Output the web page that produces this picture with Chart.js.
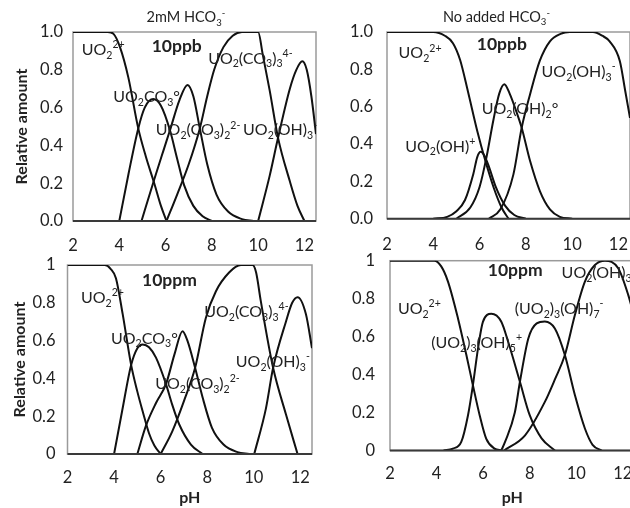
<!DOCTYPE html>
<html><head><meta charset="utf-8">
<script src="https://cdn.jsdelivr.net/npm/chart.js@4/dist/chart.umd.min.js"></script>
<style>
html,body{margin:0;padding:0;background:#fff;}
#wrap{position:relative;width:630px;height:508px;overflow:hidden;background:#fff;}
canvas{position:absolute;}
</style></head><body><div id="wrap">
<canvas id="c1" width="318" height="262" style="left:0;top:0"></canvas>
<canvas id="c2" width="322" height="262" style="left:310px;top:0"></canvas>
<canvas id="c3" width="318" height="258" style="left:0;top:250px"></canvas>
<canvas id="c4" width="340" height="258" style="left:310px;top:250px"></canvas>
</div>
<script>
// ---------- data: [pH, relative amount] ----------
// Panel 1: 2mM HCO3-, 10ppb
const p1_UO2 = [[2,1],[3.5,1],[3.75,0.99],[4.03,0.92],[4.39,0.76],[4.82,0.49],[5.15,0.34],[5.51,0.2],[5.8,0.08],[6.04,0]];
const p1_UO2CO3 = [[4.0,0],[4.4,0.25],[4.82,0.49],[5.1,0.6],[5.47,0.645],[5.8,0.61],[6.19,0.48],[6.5,0.33],[6.8,0.19],[7.2,0.08],[7.6,0.025],[8.0,0]];
const p1_UO2CO3_2 = [[4.96,0],[5.51,0.22],[5.9,0.37],[6.19,0.48],[6.6,0.64],[6.95,0.72],[7.2,0.66],[7.48,0.49],[7.8,0.3],[8.2,0.14],[8.7,0.05],[9.3,0.01],[9.8,0]];
const p1_UO2CO3_3 = [[6.04,0],[6.5,0.14],[7.0,0.3],[7.48,0.49],[7.8,0.66],[8.1,0.8],[8.5,0.92],[8.9,0.98],[9.3,1.0],[10.0,1.0],[10.2,0.88],[10.5,0.69],[10.86,0.44],[11.37,0.21],[11.7,0.08],[12.0,0]];
const p1_UO2OH3 = [[10.0,0],[10.5,0.24],[10.86,0.44],[11.37,0.7],[11.65,0.8],[11.91,0.845],[12.1,0.8],[12.3,0.66],[12.5,0.46]];
// Panel 2: no added HCO3-, 10ppb
const p2_UO2 = [[2,1],[4.0,1],[4.5,0.98],[4.85,0.94],[5.16,0.85],[5.5,0.68],[5.9,0.47],[6.25,0.31],[6.6,0.17],[6.95,0.06],[7.25,0]];
const p2_UO2OH = [[4.0,0],[4.6,0.01],[5.0,0.04],[5.37,0.1],[5.73,0.24],[5.9,0.33],[6.05,0.358],[6.2,0.34],[6.4,0.28],[6.7,0.17],[7.1,0.07],[7.5,0.02],[8.0,0]];
const p2_UO2OH2 = [[5.0,0],[5.6,0.06],[6.0,0.17],[6.3,0.33],[6.6,0.53],[6.85,0.67],[7.07,0.72],[7.3,0.67],[7.6,0.57],[7.82,0.487],[8.18,0.31],[8.61,0.147],[9.04,0.05],[9.47,0.01],[10.0,0]];
const p2_UO2OH3 = [[6.4,0],[6.9,0.05],[7.46,0.236],[7.82,0.487],[8.18,0.665],[8.6,0.845],[9.04,0.95],[9.5,0.99],[9.9,1],[10.9,1],[11.3,0.98],[11.62,0.95],[12.06,0.845],[12.3,0.68],[12.5,0.54]];
// Panel 3: 2mM HCO3-, 10ppm
const p3_UO2 = [[2,1],[3.6,1],[3.85,0.98],[4.08,0.93],[4.37,0.74],[4.73,0.473],[5.0,0.33],[5.23,0.225],[5.5,0.11],[5.73,0.045],[6.0,0]];
const p3_UO2CO3 = [[4.0,0],[4.35,0.23],[4.73,0.47],[5.0,0.56],[5.23,0.58],[5.5,0.565],[5.8,0.51],[6.23,0.37],[6.5,0.26],[6.8,0.156],[7.3,0.05],[7.8,0]];
const p3_UO2CO3_2 = [[5.0,0],[5.37,0.15],[5.8,0.27],[6.23,0.37],[6.6,0.53],[6.94,0.65],[7.15,0.6],[7.48,0.456],[7.8,0.3],[8.2,0.14],[8.7,0.05],[9.3,0.01],[9.8,0]];
const p3_UO2CO3_3 = [[6.0,0],[6.5,0.12],[7.0,0.28],[7.48,0.456],[7.94,0.72],[8.37,0.86],[8.94,0.96],[9.45,1.0],[9.95,1.0],[10.1,0.96],[10.3,0.81],[10.83,0.456],[11.38,0.21],[11.88,0]];
const p3_UO2OH3 = [[10.02,0],[10.52,0.24],[10.83,0.456],[11.38,0.7],[11.65,0.8],[11.88,0.83],[12.24,0.74],[12.5,0.56]];
// Panel 4: no added HCO3-, 10ppm
const p4_UO2 = [[2,1],[3.9,1],[4.2,0.97],[4.49,0.89],[4.92,0.696],[5.28,0.503],[5.56,0.344],[5.85,0.186],[6.13,0.063],[6.49,0.01],[6.8,0]];
const p4_UO23OH5 = [[4.3,0],[4.7,0.01],[5.06,0.045],[5.35,0.186],[5.56,0.344],[5.78,0.538],[5.99,0.678],[6.35,0.72],[6.78,0.678],[7.08,0.57],[7.58,0.362],[8.0,0.186],[8.51,0.064],[9.08,0]];
const p4_UO23OH7 = [[6.78,0],[6.94,0.045],[7.36,0.2],[7.58,0.362],[7.94,0.59],[8.3,0.67],[8.65,0.68],[9.08,0.643],[9.51,0.503],[9.94,0.292],[10.37,0.116],[10.7,0.03],[11.09,0]];
const p4_UO2OH3 = [[6.9,0],[7.8,0.08],[8.65,0.256],[9.1,0.38],[9.51,0.503],[9.94,0.714],[10.37,0.89],[10.8,0.977],[11.23,1.0],[11.8,0.96],[12.23,0.82],[12.5,0.7]];

// axis ticks
const xTicks = {min:2, max:12.5, step:2};
const yTicks = {min:0, max:1, step:0.2};

// ---------- text annotations (species names; position given as [pH, amount]) ----------
const lab1 = [
  {t:'2mM HCO_{3}^{-}', at:[6.88,1.08], size:14.5, c:true},
  {t:'10ppb', at:[5.4,0.93], size:17.5, w:'bold'},
  {t:'UO_{2}^{2+}', at:[2.38,0.91]},
  {t:'UO_{2}CO_{3}°', at:[3.74,0.66]},
  {t:'UO_{2}(CO_{3})_{2}^{2-}', at:[5.58,0.483]},
  {t:'UO_{2}(CO_{3})_{3}^{4-}', at:[7.84,0.863]},
  {t:'UO_{2}(OH)_{3}^{-}', at:[9.35,0.483]}
];
const lab2 = [
  {t:'No added HCO_{3}^{-}', at:[6.73,1.082], size:14.5, c:true},
  {t:'10ppb', at:[5.88,0.94], size:17.5, w:'bold'},
  {t:'UO_{2}^{2+}', at:[2.5,0.89]},
  {t:'UO_{2}(OH)^{+}', at:[2.79,0.39]},
  {t:'UO_{2}(OH)_{2}°', at:[6.09,0.59]},
  {t:'UO_{2}(OH)_{3}^{-}', at:[8.68,0.79]}
];
const lab3 = [
  {t:'10ppm', at:[5.2,0.924], size:17.5, w:'bold'},
  {t:'UO_{2}^{2+}', at:[2.58,0.83]},
  {t:'UO_{2}CO_{3}°', at:[3.87,0.615]},
  {t:'UO_{2}(CO_{3})_{2}^{2-}', at:[5.77,0.376]},
  {t:'UO_{2}(CO_{3})_{3}^{4-}', at:[7.87,0.756]},
  {t:'UO_{2}(OH)_{3}^{-}', at:[9.23,0.49]}
];
const lab4 = [
  {t:'10ppm', at:[6.2,0.95], size:17.5, w:'bold'},
  {t:'UO_{2}^{2+}', at:[2.34,0.75]},
  {t:'(UO_{2})_{3}(OH)_{5}^{+}', at:[3.77,0.57]},
  {t:'(UO_{2})_{3}(OH)_{7}^{-}', at:[7.36,0.75]},
  {t:'UO_{2}(OH)_{3}^{-}', at:[9.37,0.94]}
];

const FONT = 'Lato';
function parseRich(s){
  const segs=[]; let i=0, buf='';
  while(i<s.length){
    const ch=s[i];
    if((ch==='_'||ch==='^') && s[i+1]==='{'){
      if(buf){segs.push({t:buf,m:0});buf='';}
      const j=s.indexOf('}',i);
      segs.push({t:s.slice(i+2,j), m: ch==='_'?1:2});
      i=j+1;
    } else {buf+=ch;i++;}
  }
  if(buf) segs.push({t:buf,m:0});
  return segs;
}
function drawRich(ctx, s, x, yc, size, weight, center, color){
  const segs=parseRich(s);
  const setF=(g)=>{ctx.font=`${weight} ${g.m? size*0.66 : size}px ${FONT}`;};
  let w=0; for(const g of segs){setF(g); w+=ctx.measureText(g.t).width;}
  let cx = center ? x - w/2 : x;
  const base = yc + size*0.36;
  ctx.textAlign='left'; ctx.textBaseline='alphabetic'; ctx.fillStyle=color;
  for(const g of segs){
    setF(g);
    const dy = g.m===1 ? size*0.24 : g.m===2 ? -size*0.42 : 0;
    ctx.fillText(g.t, cx, base+dy);
    cx += ctx.measureText(g.t).width;
  }
}
const richPlugin = {
  id:'rich',
  beforeDatasetsDraw(chart){
    const {ctx, chartArea:a} = chart;
    ctx.save();
    ctx.strokeStyle='#9a9a9a'; ctx.lineWidth=1.5;
    ctx.strokeRect(a.left, a.top, a.right-a.left, a.bottom-a.top);
    ctx.restore();
  },
  afterDatasetsDraw(chart, args, opts){
    const {ctx, chartArea:a, scales:{x,y}} = chart;
    ctx.save();
    ctx.strokeStyle='#3a3a3a'; ctx.lineWidth=2;
    ctx.beginPath(); ctx.moveTo(a.left, a.bottom); ctx.lineTo(a.right, a.bottom); ctx.stroke();
    for(const l of (opts.labels||[])){
      drawRich(ctx, l.t, x.getPixelForValue(l.at[0]), y.getPixelForValue(l.at[1]), l.size||16, l.w||'normal', !!l.c, '#222');
    }
    ctx.restore();
  }
};

function makeChart(id, series, labels, cfg){
  new Chart(document.getElementById(id), {
    type:'line',
    data:{datasets: series.map(s=>({
      data: s.map(p=>({x:p[0], y:p[1]})),
      borderColor:'#111', borderWidth:2, pointRadius:0, fill:false,
      cubicInterpolationMode:'monotone'
    }))},
    options:{
      responsive:false, animation:false, events:[],
      layout:{padding:cfg.pad},
      plugins:{legend:{display:false}, tooltip:{enabled:false}, rich:{labels}},
      scales:{
        x:{type:'linear', min:xTicks.min, max:xTicks.max,
          grid:{display:false, drawTicks:false}, border:{display:false},
          ticks:{stepSize:xTicks.step, includeBounds:false, padding:cfg.xpad, maxRotation:0, autoSkip:false,
                 font:{family:FONT, size:16.5}, color:'#222'},
          title:{display:!!cfg.xtitle, text:'pH', color:'#222', font:{family:FONT, size:16, weight:'bold', lineHeight:1.2}, padding:{top:0,bottom:0.5}},
          afterFit:(s)=>{s.height=cfg.xh; s.paddingLeft=0; s.paddingRight=0;}
        },
        y:{type:'linear', min:yTicks.min, max:yTicks.max,
          grid:{display:false, drawTicks:false}, border:{display:false},
          ticks:{stepSize:yTicks.step, padding:cfg.ypad, font:{family:FONT, size:16.5}, color:'#222',
                 callback:(v)=>cfg.ydec ? Number(v).toFixed(1) : (Math.abs(v)<1e-9?'0':Math.abs(v-1)<1e-9?'1':Number(v).toFixed(1))},
          title:{display:!!cfg.ytitle, text:'Relative amount', color:'#222', font:{family:FONT, size:16, weight:'bold', lineHeight:1.2}, padding:{top:cfg.ytp||12, bottom:0}},
          afterFit:(s)=>{s.width=cfg.yw; s.paddingTop=0; s.paddingBottom=0;}
        }
      }
    },
    plugins:[richPlugin]
  });
}

makeChart('c1', [p1_UO2,p1_UO2CO3,p1_UO2CO3_2,p1_UO2CO3_3,p1_UO2OH3], lab1,
  {pad:{top:32,right:2,left:0,bottom:0}, yw:73, xh:41, ypad:10, xpad:15, ydec:true, ytitle:true, ytp:12.4});
makeChart('c2', [p2_UO2,p2_UO2OH,p2_UO2OH2,p2_UO2OH3], lab2,
  {pad:{top:32,right:2,left:0,bottom:0}, yw:77, xh:43.3, ypad:14, xpad:16, ydec:true});
makeChart('c3', [p3_UO2,p3_UO2CO3,p3_UO2CO3_2,p3_UO2CO3_3,p3_UO2OH3], lab3,
  {pad:{top:15,right:6,left:0,bottom:0}, yw:67.5, xh:54, ypad:12, xpad:14, ytitle:true, xtitle:true, ytp:10.4});
makeChart('c4', [p4_UO2,p4_UO23OH5,p4_UO23OH7,p4_UO2OH3], lab4,
  {pad:{top:10.7,right:15.5,left:0,bottom:0}, yw:80, xh:57.5, ypad:15, xpad:13, xtitle:true});
</script>
</body></html>
